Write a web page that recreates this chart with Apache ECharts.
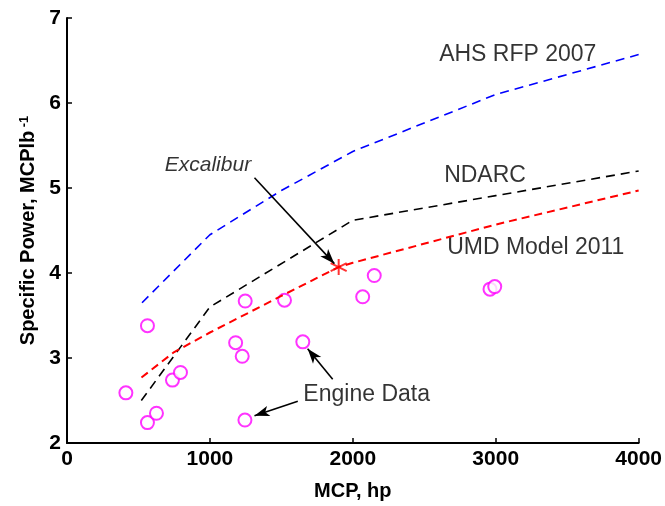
<!DOCTYPE html>
<html>
<head>
<meta charset="utf-8">
<script src="https://cdn.jsdelivr.net/npm/echarts@6/dist/echarts.min.js"></script>
<style>
  html, body { margin: 0; padding: 0; background: #fff; }
  #chart { width: 665px; height: 506px; }
</style>
</head>
<body>
<div id="chart"></div>
<script>
// AHS RFP 2007 trend
let ahsMcp = [525, 1000, 1500, 2000, 3000, 4000];
let ahsSp = [3.65, 4.45, 4.97, 5.43, 6.1, 6.57];

// NDARC trend
let ndarcMcp = [520, 1000, 2000, 3000, 4000];
let ndarcSp = [2.5, 3.6, 4.62, 4.91, 5.2];

// UMD Model 2011 trend
let umdMcp = [521, 750, 1000, 1500, 1900, 2000, 3000, 4000];
let umdSp = [2.77, 3.07, 3.3, 3.73, 4.07, 4.12, 4.57, 4.97];

// engine data points
let engMcp = [412, 563, 563, 626, 738, 794, 1180, 1226, 1247, 1245, 1522, 1650, 2069, 2150, 2960, 2993];
let engSp = [2.59, 3.38, 2.24, 2.35, 2.74, 2.83, 3.18, 3.02, 3.67, 2.27, 3.68, 3.19, 3.72, 3.97, 3.81, 3.84];

// Excalibur point
let excalibur = [1901, 4.07];

// annotation texts [x, y, text]
let notes = [
  [2604, 6.57, "AHS RFP 2007"],
  [2639, 5.14, "NDARC"],
  [2660, 4.3, "UMD Model 2011"],
  [1654, 2.57, "Engine Data"]
];
let excaliburNote = [684, 5.27, "Excalibur"];

// arrows [fromX, fromY, toX, toY]
let arrows = [
  [1312, 5.12, 1871, 4.11],
  [1859, 2.75, 1684, 3.11],
  [1615, 2.49, 1312, 2.32]
];

function zip(xs, ys) {
  return xs.map((x, i) => [x, ys[i]]);
}

let font = "Liberation Sans, Arial, sans-serif";

var myChart = echarts.init(document.getElementById("chart"));
myChart.setOption({
  animation: false,
  backgroundColor: "#fff",
  grid: { left: 67, right: 25, top: 18, bottom: 57, containLabel: false },
  xAxis: {
    type: "value",
    min: 0,
    max: 4000,
    interval: 1000,
    name: "MCP, hp",
    nameLocation: "middle",
    nameGap: 38,
    nameTextStyle: { color: "#000", fontFamily: font, fontWeight: "bold", fontSize: 20 },
    axisLine: { show: true, lineStyle: { color: "#000", width: 2 } },
    axisTick: { show: true, inside: true, length: 5, lineStyle: { color: "#000", width: 1.5 } },
    axisLabel: {
      color: "#000",
      fontFamily: font,
      fontWeight: "bold",
      fontSize: 21,
      margin: 6,
      formatter: v => String(v)
    },
    splitLine: { show: false }
  },
  yAxis: {
    type: "value",
    min: 2,
    max: 7,
    interval: 1,
    name: "{a|Specific Power, MCPlb} {s|-1}",
    nameLocation: "middle",
    nameRotate: 90,
    nameGap: 29,
    nameTextStyle: {
      color: "#000",
      rich: {
        a: { fontFamily: font, fontWeight: "bold", fontSize: 20, color: "#000" },
        s: { fontFamily: font, fontWeight: "bold", fontSize: 13, color: "#000", verticalAlign: "top" }
      }
    },
    axisLine: { show: true, lineStyle: { color: "#000", width: 2 } },
    axisTick: { show: true, inside: true, length: 5, lineStyle: { color: "#000", width: 1.5 } },
    axisLabel: { color: "#000", fontFamily: font, fontWeight: "bold", fontSize: 21, margin: 6 },
    splitLine: { show: false }
  },
  series: [
    {
      type: "line",
      data: zip(ahsMcp, ahsSp),
      symbol: "none",
      lineStyle: { color: "#0000ff", width: 1.6, type: [9, 6] }
    },
    {
      type: "line",
      data: zip(ndarcMcp, ndarcSp),
      symbol: "none",
      lineStyle: { color: "#000", width: 1.6, type: [9, 6] }
    },
    {
      type: "line",
      data: zip(umdMcp, umdSp),
      symbol: "none",
      lineStyle: { color: "#ff0000", width: 2, type: [8, 5] }
    },
    {
      type: "scatter",
      data: zip(engMcp, engSp),
      symbol: "emptyCircle",
      symbolSize: 13,
      itemStyle: { color: "#ff00ff", borderColor: "#ff00ff", borderWidth: 1.6 }
    },
    {
      type: "scatter",
      data: [excalibur],
      symbol: "path://M0,-1L0,1M-0.87,-0.5L0.87,0.5M-0.87,0.5L0.87,-0.5",
      symbolSize: 16,
      itemStyle: { color: "transparent", borderColor: "#ff0000", borderWidth: 2 }
    },
    {
      type: "scatter",
      silent: true,
      symbolSize: 0,
      data: notes.map(n => ({ value: [n[0], n[1]], name: n[2] })),
      label: {
        show: true,
        position: "right",
        distance: 0,
        formatter: p => p.name,
        color: "#000",
        fontFamily: font,
        fontSize: 23
      }
    },
    {
      type: "scatter",
      silent: true,
      symbolSize: 0,
      data: [{ value: [excaliburNote[0], excaliburNote[1]], name: excaliburNote[2] }],
      label: {
        show: true,
        position: "right",
        distance: 0,
        formatter: p => p.name,
        color: "#000",
        fontFamily: font,
        fontStyle: "italic",
        fontSize: 21
      }
    },
    {
      type: "line",
      data: [],
      markLine: {
        silent: true,
        symbol: ["none", "arrow"],
        symbolSize: [8, 15],
        label: { show: false },
        lineStyle: { color: "#000", width: 1.6, type: "solid" },
        data: arrows.map(a => [{ coord: [a[0], a[1]] }, { coord: [a[2], a[3]] }])
      }
    }
  ]
});
</script>
</body>
</html>
